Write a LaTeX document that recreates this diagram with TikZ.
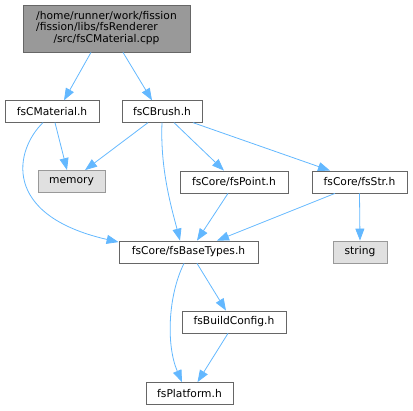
\documentclass[tikz,border=0pt]{standalone}
\usepackage{fontspec}
\setmainfont{DejaVu Sans}
\usetikzlibrary{arrows.meta}

\definecolor{edgeblue}{HTML}{63B8FF}
\definecolor{boxline}{HTML}{666666}
\definecolor{rootfill}{HTML}{999999}
\definecolor{extfill}{HTML}{E0E0E0}
\definecolor{extline}{HTML}{999999}

\tikzset{
  file/.style={draw=boxline, fill=white, line width=0.8pt, inner sep=0pt,
    minimum height=22pt, font=\fontsize{10.7}{11.8}\selectfont},
  extfile/.style={file, draw=extline, fill=extfill},
  dep/.style={draw=edgeblue, line width=0.8pt, -{Triangle[length=12pt,width=9pt,fill=edgeblue]}},
}

\begin{document}
\begin{tikzpicture}[x=1pt,y=-1pt]
%\draw[step=10,gray,very thin] (0,0) grid (413,411); %background grid
\useasboundingbox (0,0) rectangle (413,411);

\node[file,fill=rootfill,minimum width=167pt,minimum height=47pt] (root) at (106.5,28.5)
  {\begin{tabular}{@{}l@{}}/home/runner/work/fission\\/fission/libs/fsRenderer\\\multicolumn{1}{@{}c@{}}{/src/fsCMaterial.cpp}\end{tabular}};

\node[file,minimum width=94pt,minimum height=21.5pt] (material) at (52,111.5) {fsCMaterial.h};
\node[file,minimum width=80pt,minimum height=21.5pt] (brush) at (162,111.5) {fsCBrush.h};

\node[extfile,minimum width=67pt] (memory) at (71.5,181.5) {memory};
\node[file,minimum width=108pt] (point) at (234,182) {fsCore/fsPoint.h};
\node[file,minimum width=95pt] (str) at (359.5,182) {fsCore/fsStr.h};

\node[file,minimum width=139pt] (basetypes) at (188.5,252) {fsCore/fsBaseTypes.h};
\node[extfile,minimum width=54pt] (string) at (360,252) {string};

\node[file,minimum width=104pt] (buildconfig) at (234,322) {fsBuildConfig.h};
\node[file,minimum width=87pt] (platform) at (189.5,393.5) {fsPlatform.h};

\draw[dep] ([xshift=-15.5pt]root.south) -- ([xshift=12pt]material.north);
\draw[dep] ([xshift=16.5pt]root.south) -- ([xshift=-10pt]brush.north);

\draw[dep] ([xshift=3pt]material.south) -- ([xshift=-4.5pt]memory.north);
\draw[dep] ([xshift=-9pt]material.south) .. controls +(-28,27) and +(-118,-27) .. ([yshift=-1.5pt]basetypes.north west);

\draw[dep] ([xshift=-14pt]brush.south) -- ([xshift=13.5pt]memory.north);
\draw[dep] (brush.south) .. controls +(-2,47) and +(-8,-31) .. ([xshift=-8.5pt]basetypes.north);
\draw[dep] ([xshift=12pt]brush.south) -- ([xshift=-10pt]point.north);
\draw[dep] ([xshift=31pt]brush.south) -- ([xshift=-29.5pt]str.north);

\draw[dep] ([xshift=-6pt]point.south) -- ([xshift=8.5pt]basetypes.north);
\draw[dep] ([xshift=-24.5pt]str.south) -- ([xshift=28.5pt]basetypes.north);
\draw[dep] (str.south) -- (string.north);

\draw[dep] ([xshift=8.5pt]basetypes.south) -- ([xshift=-8pt]buildconfig.north);
\draw[dep] ([xshift=-4.5pt]basetypes.south) .. controls +(-16,32) and +(-16,-37) .. ([xshift=-7.5pt]platform.north);
\draw[dep] ([xshift=-6pt]buildconfig.south) -- ([xshift=8pt]platform.north);

\end{tikzpicture}
\end{document}
